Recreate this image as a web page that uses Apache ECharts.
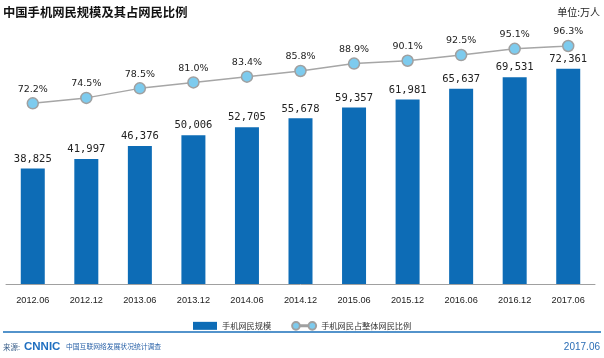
<!DOCTYPE html>
<html><head><meta charset="utf-8">
<script src="https://cdn.jsdelivr.net/npm/echarts@6/dist/echarts.min.js"></script>
<style>html,body{margin:0;padding:0;background:#fff}#c{width:604px;height:358px}</style>
</head><body><div id="c"></div>
<script>
var categories = ['2012.06','2012.12','2013.06','2013.12','2014.06','2014.12','2015.06','2015.12','2016.06','2016.12','2017.06'];
var users = [38825,41997,46376,50006,52705,55678,59357,61981,65637,69531,72361];
var ratio = [72.2,74.5,78.5,81.0,83.4,85.8,88.9,90.1,92.5,95.1,96.3];
var title = '中国手机网民规模及其占网民比例';
var unitText = '单位:万人';
var barName = '手机网民规模';
var lineName = '手机网民占整体网民比例';

var chart = echarts.init(document.getElementById('c'), null, {renderer:'canvas'});
chart.setOption({
  animation:false,
  backgroundColor:'#fff',
  grid:{left:6,right:9,top:46,bottom:74},
  xAxis:{type:'category',data:categories,
    axisLine:{lineStyle:{color:'#a0a0a0',width:1}},
    axisTick:{show:false},
    axisLabel:{color:'#222',fontSize:9.2,fontFamily:'Liberation Sans',margin:12}},
  yAxis:[{type:'value',min:0,max:80000,show:false,splitLine:{show:false}},
         {type:'value',min:-3.7,max:96.3,show:false,splitLine:{show:false}}],
  legend:{left:188,top:316,itemWidth:24,itemHeight:8,itemGap:20,
    textStyle:{fontSize:8.2,color:'#333',fontFamily:'Noto Sans CJK SC'},
    data:[{name:barName,icon:'rect'},
          {name:lineName,icon:'path://M0,4a4,4 0 1,0 8,0a4,4 0 1,0 -8,0Z M17,4a4,4 0 1,0 8,0a4,4 0 1,0 -8,0Z M8,3.5h9v1h-9Z'}]},
  series:[
    {name:barName,type:'bar',data:users,barWidth:24,
     itemStyle:{color:'#0d6cb6'},
     label:{show:true,position:'top',distance:4,color:'#222',fontSize:10.5,fontFamily:'DejaVu Sans Mono',
       formatter:function(p){return p.value.toLocaleString('en-US');}}},
    {name:lineName,type:'line',yAxisIndex:1,data:ratio,symbol:'circle',symbolSize:11,
     lineStyle:{color:'#a6a6a6',width:1.5},
     itemStyle:{color:'#7dcbee',borderColor:'#a0a0a0',borderWidth:1.5},
     label:{show:true,position:'top',distance:3,color:'#222',fontSize:9.5,fontFamily:'DejaVu Sans',
       formatter:function(p){return p.value.toFixed(1)+'%';}}}
  ],
  graphic:[
    {type:'text',left:3,top:6,style:{text:title,font:'bold 12.3px "Noto Sans CJK SC"',fill:'#111'}},
    {type:'text',right:4,top:7,style:{text:unitText,font:'10px "Noto Sans CJK SC"',fill:'#222'}},
    {type:'line',shape:{x1:3,y1:332,x2:601,y2:332},style:{stroke:'#1a6fba',lineWidth:1.5}},
    {type:'text',left:3,top:343,style:{text:'来源:',font:'7.5px "Noto Sans CJK SC"',fill:'#3a5f8a'}},
    {type:'text',left:24,top:341,style:{text:'CNNIC',font:'900 11.5px "Liberation Sans"',fill:'#1f6fc0'}},
    {type:'text',left:66,top:343,style:{text:'中国互联网络发展状况统计调查',font:'6.8px "Noto Sans CJK SC"',fill:'#2a62a8'}},
    {type:'text',right:4,top:342,style:{text:'2017.06',font:'10px "Liberation Sans"',fill:'#2a6db5'}}
  ]
});
</script></body></html>
